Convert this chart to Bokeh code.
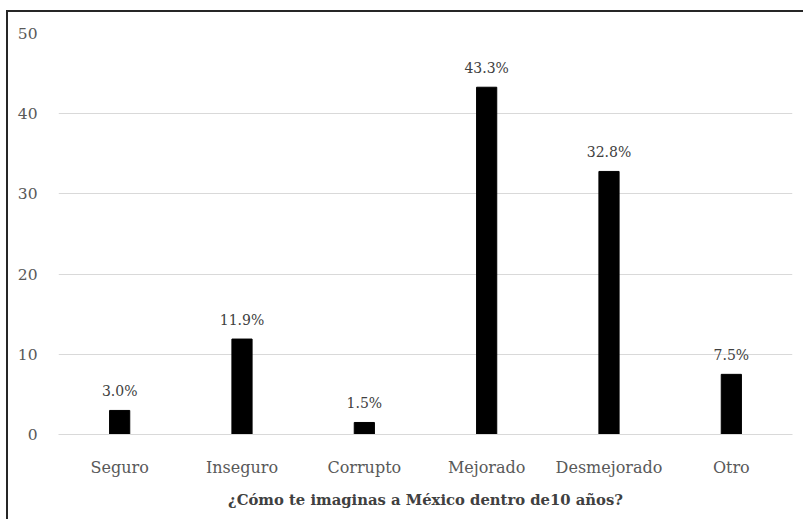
from bokeh.plotting import figure
from bokeh.models import ColumnDataSource, FixedTicker, Range1d
from bokeh.embed import file_html
from bokeh.resources import INLINE

# Survey answers: how respondents imagine Mexico in 10 years
categories = ["Seguro", "Inseguro", "Corrupto", "Mejorado", "Desmejorado", "Otro"]
percentages = [3.0, 11.9, 1.5, 43.3, 32.8, 7.5]
y_ticks = [0, 10, 20, 30, 40, 50]

FONT = "DejaVu Serif"
GREY = "#595959"

source = ColumnDataSource(dict(
    cat=categories,
    pct=percentages,
    label=[f"{v:.1f}%" for v in percentages],
))

p = figure(
    x_range=categories,
    y_range=Range1d(0, 50),
    width=797, height=509,
    output_backend="svg",
    toolbar_location=None,
    min_border_left=50, min_border_right=13,
    min_border_top=21, min_border_bottom=87,
)
# frame drawn around the whole chart area (left and top edges visible)
p.styles = {
    "margin-left": "6px",
    "margin-top": "10px",
    "border-left": "2px solid #262626",
    "border-top": "2px solid #262626",
}

p.vbar(x="cat", top="pct", width=0.165, source=source,
       fill_color="black", line_color="black")

p.text(x="cat", y="pct", text="label", source=source,
       text_align="center", text_baseline="bottom", y_offset=-11,
       text_font={"value": FONT}, text_font_size="14px", text_color="#404040")

p.outline_line_color = None
p.xgrid.grid_line_color = None
p.ygrid.grid_line_color = "#d9d9d9"
p.ygrid.grid_line_width = 1
p.yaxis.ticker = FixedTicker(ticks=y_ticks)

for ax in (p.xaxis, p.yaxis):
    ax.major_tick_line_color = None
    ax.minor_tick_line_color = None
    ax.major_label_text_font = FONT
    ax.major_label_text_color = GREY

p.xaxis.major_label_text_font_size = "16px"
p.yaxis.major_label_text_font_size = "15.5px"
p.yaxis.axis_line_color = None
p.yaxis.major_label_standoff = 15
p.xaxis.axis_line_color = "#d9d9d9"
p.xaxis.major_label_standoff = 17
p.x_range.range_padding = 0

p.xaxis.axis_label = "¿Cómo te imaginas a México dentro de10 años?"
p.xaxis.axis_label_text_font = FONT
p.xaxis.axis_label_text_font_style = "bold"
p.xaxis.axis_label_text_font_size = "14.8px"
p.xaxis.axis_label_text_color = "#404040"
p.xaxis.axis_label_standoff = 11

open("out.html", "w").write(file_html(p, INLINE))
